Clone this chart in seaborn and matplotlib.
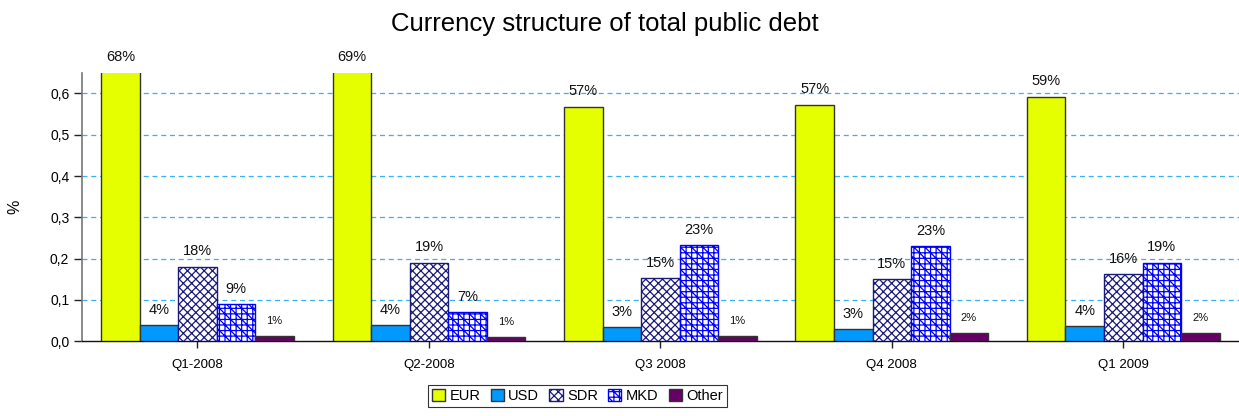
import matplotlib
matplotlib.use("Agg")
import matplotlib.pyplot as plt
import matplotlib.ticker as mticker
import seaborn as sns
import pandas as pd

quarters = ["Q1-2008", "Q2-2008", "Q3 2008", "Q4 2008", "Q1 2009"]
currencies = ["EUR", "USD", "SDR", "MKD", "Other"]

eur = [0.68, 0.69, 0.568, 0.573, 0.592]
usd = [0.039, 0.039, 0.034, 0.029, 0.036]
sdr = [0.18, 0.19, 0.152, 0.15, 0.163]
mkd = [0.09, 0.07, 0.233, 0.23, 0.19]
other = [0.012, 0.010, 0.012, 0.020, 0.020]

series = {"EUR": eur, "USD": usd, "SDR": sdr, "MKD": mkd, "Other": other}
rows = [
    {"quarter": q, "currency": c, "share": series[c][i]}
    for c in currencies
    for i, q in enumerate(quarters)
]
df = pd.DataFrame(rows)

face = {"EUR": "#E6FF00", "USD": "#0099FF", "SDR": "white", "MKD": "white", "Other": "#660066"}
edge = {"EUR": "#333333", "USD": "#333333", "SDR": "#1A1A7A", "MKD": "#0000FF", "Other": "#333333"}
hatch = {"EUR": None, "USD": None, "SDR": "xxxx", "MKD": "+++\\\\\\", "Other": None}

sns.set_theme(style="white")
plt.rcParams["font.family"] = ["Liberation Sans", "DejaVu Sans"]
plt.rcParams["hatch.linewidth"] = 0.9
plt.rcParams["text.color"] = "black"
plt.rcParams["xtick.color"] = "black"
plt.rcParams["ytick.color"] = "black"
plt.rcParams["axes.labelcolor"] = "black"

YTOP = 0.65

fig = plt.figure(figsize=(12.39, 4.16), dpi=100)
ax = fig.add_axes([0.066, 0.18, 0.934, 0.645])

sns.barplot(
    data=df, x="quarter", y="share", hue="currency",
    order=quarters, hue_order=currencies,
    palette=face, width=0.833, gap=0, errorbar=None,
    linewidth=1.0, saturation=1, ax=ax, zorder=3,
)

for cur, cont in zip(currencies, ax.containers):
    for p in cont.patches:
        p.set_facecolor(face[cur])
        p.set_edgecolor(edge[cur])
        if hatch[cur]:
            p.set_hatch(hatch[cur])
        p.set_linewidth(1.0)
    small = cur == "Other"
    for p in cont.patches:
        h = p.get_height()
        ax.annotate(
            f"{round(h * 100):.0f}%",
            (p.get_x() + p.get_width() / 2, min(h, YTOP)),
            xytext=(0, 6 if not small else 7), textcoords="offset points",
            ha="center", va="bottom",
            fontsize=8 if small else 10.5, color="#111111",
            annotation_clip=False,
        )

ax.set_xlim(-0.5, 4.5)
ax.set_ylim(0, YTOP)
ax.set_yticks([0, 0.1, 0.2, 0.3, 0.4, 0.5, 0.6])
ax.yaxis.set_major_formatter(mticker.FuncFormatter(lambda v, _: f"{v:.1f}".replace(".", ",")))
for y in [0.1, 0.2, 0.3, 0.4, 0.5, 0.6]:
    ax.axhline(y, color="#3AB0F0", linestyle=(0, (4, 3)), linewidth=0.9, zorder=1)

ax.set_xlabel("")
ax.set_ylabel("%", fontsize=11.5, labelpad=20)
ax.tick_params(axis="x", labelsize=9.5, bottom=True, length=5, width=1, color="#222222", direction="out", pad=8)
ax.tick_params(axis="y", labelsize=10, left=True, length=6, width=1, color="#222222", direction="out", pad=3)

for s in ["top", "right"]:
    ax.spines[s].set_visible(False)
ax.spines["left"].set_color("#777777")
ax.spines["left"].set_linewidth(1.2)
ax.spines["bottom"].set_color("#111111")
ax.spines["bottom"].set_linewidth(1.0)

fig.suptitle("Currency structure of total public debt", fontsize=18.5, y=0.972, x=0.488)

if ax.get_legend() is not None:
    ax.get_legend().remove()
handles = [cont.patches[0] for cont in ax.containers]
leg = fig.legend(
    handles, currencies, loc="lower center", bbox_to_anchor=(0.466, 0.003),
    ncol=5, fontsize=10.5, frameon=True, fancybox=False, edgecolor="black",
    handlelength=0.9, handleheight=0.9, handletextpad=0.3, columnspacing=0.7,
    borderpad=0.3,
)
leg.get_frame().set_linewidth(0.8)

fig.savefig("out.png", dpi=100)
